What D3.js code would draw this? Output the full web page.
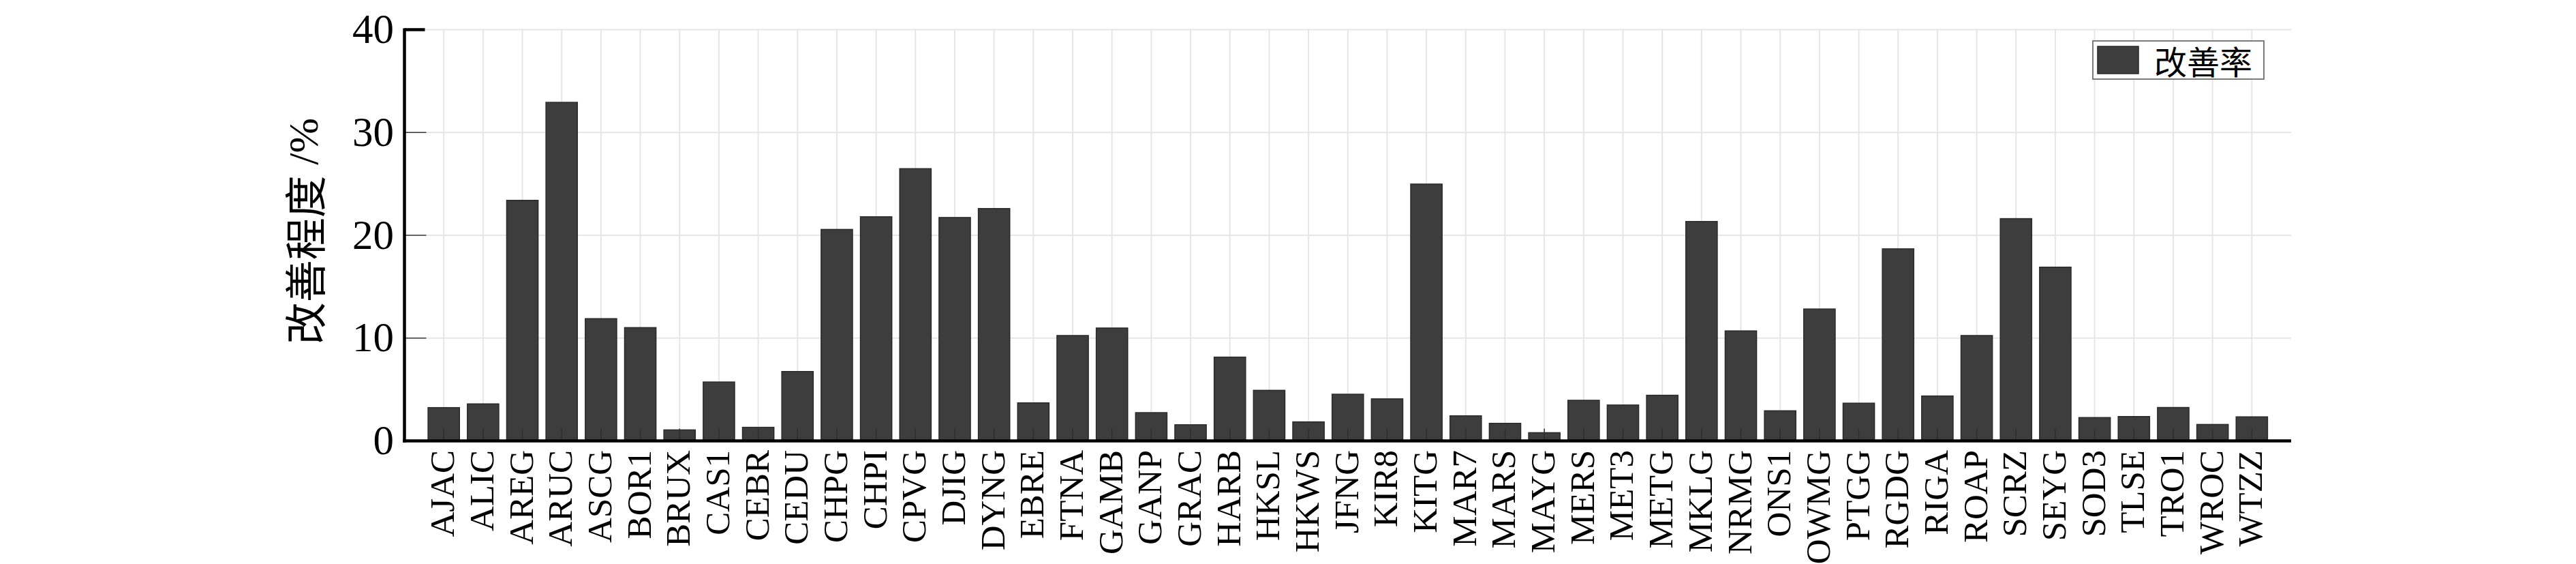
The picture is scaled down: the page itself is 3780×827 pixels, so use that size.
<!DOCTYPE html>
<html>
<head>
<meta charset="utf-8">
<script src="https://cdn.jsdelivr.net/npm/d3@7"></script>
<style>
  html, body { margin: 0; padding: 0; background: #ffffff; }
  svg { display: block; }
</style>
</head>
<body>
<div id="chart"></div>
<script>
const stations = ["AJAC","ALIC","AREG","ARUC","ASCG","BOR1","BRUX","CAS1","CEBR","CEDU",
  "CHPG","CHPI","CPVG","DJIG","DYNG","EBRE","FTNA","GAMB","GANP","GRAC",
  "HARB","HKSL","HKWS","JFNG","KIR8","KITG","MAR7","MARS","MAYG","MERS",
  "MET3","METG","MKLG","NRMG","ONS1","OWMG","PTGG","RGDG","RIGA","ROAP",
  "SCRZ","SEYG","SOD3","TLSE","TRO1","WROC","WTZZ"];
const improvement = [3.24,3.6,23.4,32.93,11.89,11.02,1.07,5.73,1.32,6.75,
  20.57,21.8,26.48,21.73,22.6,3.7,10.25,10.98,2.75,1.57,
  8.15,4.92,1.85,4.54,4.09,24.98,2.44,1.71,0.8,3.95,
  3.49,4.44,21.34,10.7,2.93,12.83,3.67,18.68,4.37,10.25,
  21.62,16.9,2.27,2.37,3.25,1.6,2.34];
const yTicks = [0,10,20,30,40];
const seriesName = "改善率";
const yTitleCJK = "改善程度";
const yTitleUnit = " /%";

(function () {
const W = 3780, H = 827;
const pL = 593.5, pR = 3362, pT = 43.5, pB = 646.5;
const latin = "'Times New Roman','Liberation Serif',serif";
const cjk = "'Noto Sans CJK SC','Noto Sans CJK JP',sans-serif";
const barFill = "#3d3d3d";

const svg = d3.select("#chart").append("svg")
  .attr("width", W).attr("height", H)
  .style("background", "#fff");

const x = d3.scaleLinear().domain([0, stations.length + 1]).range([pL, pR]);
const y = d3.scaleLinear().domain([0, 40]).range([pB, pT]);
const step = x(1) - x(0);
const bw = step * 0.8;

// grid
const grid = svg.append("g").attr("stroke", "#e6e6e6").attr("stroke-width", 2);
grid.selectAll("line.v").data(stations).join("line").attr("class", "v")
  .attr("x1", (d, i) => x(i + 1)).attr("x2", (d, i) => x(i + 1))
  .attr("y1", pT).attr("y2", pB);
grid.selectAll("line.h").data(yTicks.filter(t => t > 0)).join("line").attr("class", "h")
  .attr("x1", pL).attr("x2", pR)
  .attr("y1", d => y(d)).attr("y2", d => y(d));

// bars
svg.append("g").selectAll("rect").data(improvement).join("rect")
  .attr("x", (d, i) => x(i + 1) - bw / 2)
  .attr("width", bw)
  .attr("y", d => y(d))
  .attr("height", d => pB - y(d))
  .attr("fill", barFill)
  .attr("stroke", "#2a2a2a")
  .attr("stroke-width", 1.5);

// x ticks (over bars)
svg.append("g").selectAll("line").data(stations).join("line")
  .attr("x1", (d, i) => x(i + 1)).attr("x2", (d, i) => x(i + 1))
  .attr("y1", pB).attr("y2", pB - 18)
  .attr("stroke", "#2e2e2e").attr("stroke-width", 1.5);

// y ticks
svg.append("g").selectAll("line").data(yTicks.filter(t => t > 0)).join("line")
  .attr("x1", pL).attr("x2", d => d === 40 ? pL + 30 : pL + 32)
  .attr("y1", d => y(d)).attr("y2", d => y(d))
  .attr("stroke", d => d === 40 ? "#000" : "#3a3a3a")
  .attr("stroke-width", d => d === 40 ? 4.5 : 1.5);

// axis lines
svg.append("line").attr("x1", pL).attr("x2", pL)
  .attr("y1", pT - 2).attr("y2", pB + 2.2)
  .attr("stroke", "#000").attr("stroke-width", 4.5);
svg.append("line").attr("x1", pL - 2.2).attr("x2", pR)
  .attr("y1", pB).attr("y2", pB)
  .attr("stroke", "#000").attr("stroke-width", 4.5);

// y tick labels
svg.append("g").selectAll("text").data(yTicks).join("text")
  .attr("x", 578).attr("y", d => y(d) - 1)
  .attr("text-anchor", "end")
  .attr("dominant-baseline", "central")
  .attr("font-family", latin).attr("font-size", 61)
  .attr("fill", "#000")
  .text(d => d);

// x tick labels
svg.append("g").selectAll("text").data(stations).join("text")
  .attr("transform", (d, i) => `translate(${x(i + 1) - 2},660) rotate(-90)`)
  .attr("text-anchor", "end")
  .attr("dominant-baseline", "central")
  .attr("font-family", latin).attr("font-size", 51)
  .attr("fill", "#000")
  .text(d => d);

// y title
const yt = svg.append("text")
  .attr("transform", "translate(445,339) rotate(-90)")
  .attr("text-anchor", "middle")
  .attr("dominant-baseline", "central")
  .attr("font-size", 62)
  .attr("fill", "#000");
yt.append("tspan").attr("font-family", cjk).text(yTitleCJK);
yt.append("tspan").attr("font-family", latin).text(yTitleUnit);

// legend
const lg = svg.append("g");
lg.append("rect").attr("x", 3071).attr("y", 60).attr("width", 251).attr("height", 56)
  .attr("fill", "#fff").attr("stroke", "#7a7a7a").attr("stroke-width", 2);
lg.append("rect").attr("x", 3078).attr("y", 68).attr("width", 60).attr("height", 40)
  .attr("fill", barFill).attr("stroke", "#2a2a2a").attr("stroke-width", 1.5);
lg.append("text").attr("x", 3161).attr("y", 88)
  .attr("dominant-baseline", "central")
  .attr("font-family", cjk).attr("font-size", 48)
  .attr("fill", "#000")
  .text(seriesName);
})();
</script>
</body>
</html>
